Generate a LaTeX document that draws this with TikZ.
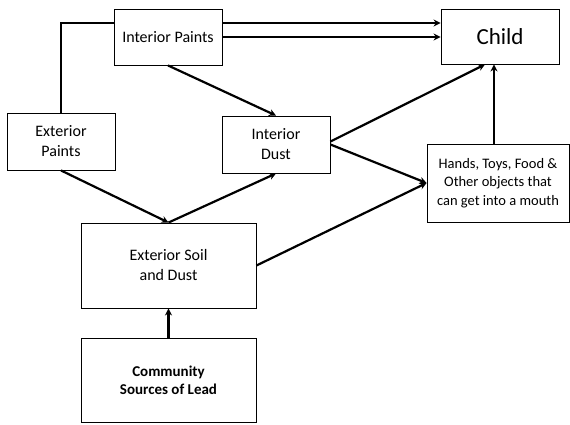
\documentclass[tikz,border=0pt]{standalone}
\usepackage{fontspec}
\setmainfont{Carlito}
\usetikzlibrary{arrows.meta}
\begin{document}
\begin{tikzpicture}[x=1pt,y=-1pt,
  box/.style={draw, line width=0.9pt, fill=white, inner sep=2pt, align=center, font=\fontsize{16}{20}\selectfont},
  conn/.style={line width=2.2pt},
  arr/.style={conn, -{Stealth[length=7pt,width=7pt]}}]
\useasboundingbox (0,0) rectangle (570,425);
\node[box, minimum width=108pt, minimum height=56pt] (ip) at (168,37) {Interior Paints};
\node[box, minimum width=108pt, minimum height=57pt] (ep) at (61,141.5) {Exterior\\Paints};
\node[box, minimum width=108pt, minimum height=57pt] (id) at (276,144.5) {Interior\\Dust};
\node[box, minimum width=118pt, minimum height=55pt, font=\fontsize{23}{27}\selectfont] (ch) at (500,36.5) {Child};
\node[box, minimum width=142pt, minimum height=78pt, font=\fontsize{14.5}{18.3}\selectfont] (hd) at (498,183) {Hands, Toys, Food \&\\Other objects that\\can get into a mouth};
\node[box, minimum width=175pt, minimum height=85pt] (so) at (168.5,265.5) {Exterior Soil\\and Dust};
\node[box, minimum width=175pt, minimum height=84pt, font=\bfseries\fontsize{15}{18.3}\selectfont] (cm) at (168.5,380) {Community\\Sources of Lead};
% Exterior paints -> child (passing behind interior paints)
\draw[conn] (ep.north) |- ([yshift=14pt]ip.west);
\draw[arr] ([yshift=14pt]ip.east) -- ([yshift=14pt]ip.east -| ch.west);
\draw[arr] (ip.east) -- (ip.east -| ch.west);
\draw[arr] (ip.south) -- (id.north);
\draw[arr] (ep.south) -- (so.north);
\draw[arr] (so.north) -- (id.south);
\draw[arr] ([yshift=3pt]id.east) -- ([xshift=-15pt]ch.south);
\draw[arr] (id.east) -- (hd.west);
\draw[arr] (so.east) -- (hd.west);
\draw[arr] ([xshift=-4pt]hd.north) -- ([xshift=-4pt]hd.north |- ch.south);
\draw[arr] (cm.north) -- (so.south);
\end{tikzpicture}
\end{document}
